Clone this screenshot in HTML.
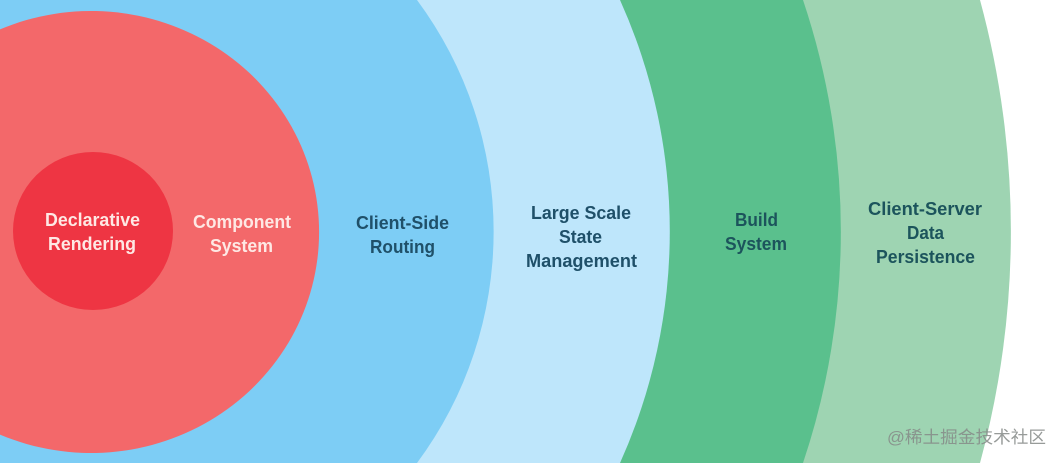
<!DOCTYPE html>
<html>
<head>
<meta charset="utf-8">
<style>
html,body{margin:0;padding:0;background:#fff;width:1062px;height:463px;overflow:hidden}
svg{display:block;overflow:hidden}
text{font-family:"Liberation Sans","Noto Sans CJK SC",sans-serif;font-weight:bold;font-size:18px;text-anchor:start}
.t{filter:blur(.3px)}
.d{fill:#1f5069}
.g{fill:#1c545c}
.l{fill:#fee8e4}
.w{font-size:17px;font-weight:normal;fill:#858a87;fill-opacity:.85;filter:blur(.3px)}
</style>
</head>
<body>
<svg width="1062" height="463" viewBox="0 0 1062 463" xmlns="http://www.w3.org/2000/svg">
<rect width="1062" height="463" fill="#fff"/>
<path d="M0 0H980A883 883 0 0 1 980 463H0Z" fill="#9ed4b2"/>
<path d="M0 0H803A727 727 0 0 1 803 463H0Z" fill="#5ac08d"/>
<path d="M0 0H620A563 563 0 0 1 620 463H0Z" fill="#bee6fb"/>
<path d="M0 0H417A388 388 0 0 1 417 463H0Z" fill="#7dcdf5"/>
<path d="M0 29.4A228 221 0 1 1 0 434.6Z" fill="#f3686a"/>
<ellipse cx="93" cy="231" rx="80" ry="79" fill="#ee3543"/>
<g class="t">
<text class="l" x="45" y="226" textLength="95" lengthAdjust="spacingAndGlyphs">Declarative</text>
<text class="l" x="48" y="250" textLength="88" lengthAdjust="spacingAndGlyphs">Rendering</text>
<text class="l" x="193" y="228" textLength="98" lengthAdjust="spacingAndGlyphs">Component</text>
<text class="l" x="210" y="252" textLength="63" lengthAdjust="spacingAndGlyphs">System</text>
<text class="d" x="356" y="229" textLength="93" lengthAdjust="spacingAndGlyphs">Client-Side</text>
<text class="d" x="370" y="253" textLength="65" lengthAdjust="spacingAndGlyphs">Routing</text>
<text class="d" x="531" y="219" textLength="100" lengthAdjust="spacingAndGlyphs">Large Scale</text>
<text class="d" x="559" y="243" textLength="43" lengthAdjust="spacingAndGlyphs">State</text>
<text class="d" x="526" y="267" textLength="111" lengthAdjust="spacingAndGlyphs">Management</text>
<text class="g" x="735" y="226" textLength="43" lengthAdjust="spacingAndGlyphs">Build</text>
<text class="g" x="725" y="250" textLength="62" lengthAdjust="spacingAndGlyphs">System</text>
<text class="g" x="868" y="215" textLength="114" lengthAdjust="spacingAndGlyphs">Client-Server</text>
<text class="g" x="907" y="239" textLength="37" lengthAdjust="spacingAndGlyphs">Data</text>
<text class="g" x="876" y="263" textLength="99" lengthAdjust="spacingAndGlyphs">Persistence</text>
</g>
<text class="w" x="887" y="443" textLength="159" lengthAdjust="spacingAndGlyphs">@稀土掘金技术社区</text>
</svg>
</body>
</html>
